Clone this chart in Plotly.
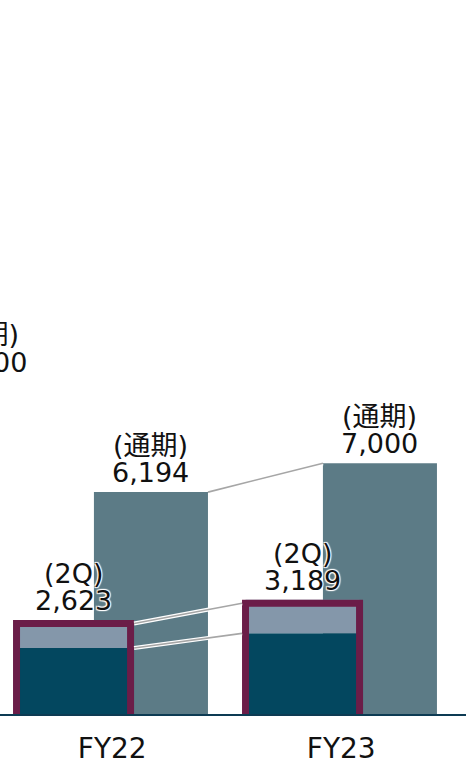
import plotly.graph_objects as go

# 売上高 (百万円) - 2Q累計 vs 通期
years = ["FY22", "FY23"]
full_year = [6194, 7000]        # (通期)
q2_total = [2623, 3189]         # (2Q)
q2_lower = [1843, 2251]         # 2Q dark part
q2_upper = [780, 938]           # 2Q light part
full_tag = "(通期)"
q2_tag = "(2Q)"
# label of the panel on the left, cut off by the edge
edge_tag = ["(通期)", "10,000"]

W, H = 466, 762
PLOT_H = 714
Y_MAX = 19930
X_RANGE = [-0.4902, 1.5448]
BW = 0.498          # bar width
Q_OFF = -0.418      # 2Q bar offset
F_OFF = -0.080      # full-year bar offset
BOX_LW = 7

u = Y_MAX / PLOT_H                          # data units per pixel (y)
ux = (X_RANGE[1] - X_RANGE[0]) / W          # data units per pixel (x)

FONT = "DejaVu Sans, Noto Sans CJK JP, sans-serif"
HALO = "-1px -1px 1px #fff, 1px -1px 1px #fff, -1px 1px 1px #fff, 1px 1px 1px #fff"

xs = list(range(len(years)))

fig = go.Figure()

# full-year bars
fig.add_trace(go.Bar(x=xs, y=full_year, width=BW, offset=F_OFF,
                     marker=dict(color="#5c7b86", line=dict(width=0))))

# 2Q stacked bars
fig.add_trace(go.Bar(x=xs, y=q2_lower, width=BW, offset=Q_OFF,
                     marker=dict(color="#03475f", line=dict(width=0))))
fig.add_trace(go.Bar(x=xs, y=q2_upper, base=q2_lower, width=BW, offset=Q_OFF,
                     marker=dict(color="#8497aa", line=dict(width=0))))

# frame around the 2Q bars
box_base = -4.75 * u
box_h = [t - BOX_LW / 2 * u - box_base for t in q2_total]
fig.add_trace(go.Bar(x=xs, y=box_h, base=[box_base] * len(xs), width=BW, offset=Q_OFF,
                     marker=dict(color="rgba(0,0,0,0)",
                                 line=dict(color="#6b1d48", width=BOX_LW)),
                     cliponaxis=False))

# connector lines between the years
edge = BOX_LW / 2 * ux
links = [
    ([xs[0] + F_OFF + BW, xs[1] + F_OFF], full_year),
    ([xs[0] + Q_OFF + BW + edge, xs[1] + Q_OFF - edge], [t - BOX_LW / 2 * u for t in q2_total]),
    ([xs[0] + Q_OFF + BW + edge, xs[1] + Q_OFF - edge], q2_lower),
]
for lx, ly in links:
    fig.add_trace(go.Scatter(x=lx, y=ly, mode="lines", hoverinfo="skip",
                             line=dict(color="white", width=4)))
    fig.add_trace(go.Scatter(x=lx, y=ly, mode="lines", hoverinfo="skip",
                             line=dict(color="#a6a6a6", width=1.6)))

lab_font = dict(family=FONT, size=27, color="#111", shadow=HALO)
NUM_SHIFT = 2
TAG_SHIFT = 29

for i, x in enumerate(xs):
    for cx, v, tag in [(x + F_OFF + BW / 2, full_year[i], full_tag),
                       (x + Q_OFF + BW / 2, q2_total[i], q2_tag)]:
        fig.add_annotation(x=cx, y=v, xref="x", yref="y", text=f"{v:,}",
                           showarrow=False, yanchor="bottom", yshift=NUM_SHIFT, font=lab_font)
        fig.add_annotation(x=cx, y=v, xref="x", yref="y", text=tag,
                           showarrow=False, yanchor="bottom", yshift=TAG_SHIFT, font=lab_font)

# cut-off label at the left edge
fig.add_annotation(x=29 / W, y=9200, xref="paper", yref="y", text=edge_tag[1],
                   showarrow=False, xanchor="right", yanchor="bottom", yshift=NUM_SHIFT + 2, font=lab_font)
fig.add_annotation(x=21 / W, y=9200, xref="paper", yref="y", text=edge_tag[0],
                   showarrow=False, xanchor="right", yanchor="bottom", yshift=TAG_SHIFT + 3, font=lab_font)

fig.update_layout(
    width=W, height=H,
    margin=dict(l=0, r=0, t=0, b=H - PLOT_H),
    barmode="overlay",
    showlegend=False,
    plot_bgcolor="white",
    paper_bgcolor="white",
    xaxis=dict(range=X_RANGE, tickvals=xs, ticktext=years, showgrid=False, zeroline=False,
               showline=True, linecolor="#0d3b53", linewidth=2, layer="below traces",
               ticks="", ticklabelstandoff=8, automargin=False,
               tickfont=dict(family=FONT, size=28, color="#111")),
    yaxis=dict(range=[0, Y_MAX], visible=False, fixedrange=True, automargin=False),
)

fig.write_html("out.html", config={"displayModeBar": False},
               post_script="document.body.style.margin='0';")
